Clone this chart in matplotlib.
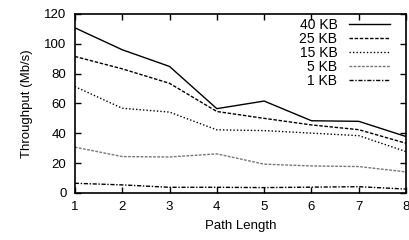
import matplotlib
matplotlib.use("Agg")
import matplotlib.pyplot as plt

plt.rcParams['font.family'] = ['Liberation Sans', 'DejaVu Sans']
plt.rcParams['font.size'] = 9.5

# data
path_length = [1, 2, 3, 4, 5, 6, 7, 8]
kb40 = [110.7, 96.0, 84.8, 56.5, 61.6, 48.4, 48.0, 37.8]
kb25 = [91.5, 83.2, 73.5, 54.6, 50.0, 45.6, 42.4, 33.3]
kb15 = [71.3, 56.8, 54.2, 42.3, 41.8, 40.1, 38.4, 27.7]
kb5 = [30.7, 24.4, 24.1, 26.2, 19.3, 18.1, 17.7, 14.1]
kb1 = [6.5, 5.4, 3.8, 3.8, 3.6, 3.9, 4.2, 2.6]

fig = plt.figure(figsize=(4.09, 2.40), dpi=100)
ax = fig.add_axes([0.183, 0.196, 0.810, 0.746])

ax.plot(path_length, kb40, color="black", lw=1.0, ls="-", label="40 KB")
ax.plot(path_length, kb25, color="black", lw=1.0, ls=(0, (2.5, 1.2)), label="25 KB")
ax.plot(path_length, kb15, color="black", lw=1.0, ls=(0, (1, 1.5)), label="15 KB")
ax.plot(path_length, kb5, color="#777777", lw=1.0, ls=(0, (2, 1)), label="5 KB")
ax.plot(path_length, kb1, color="black", lw=1.0, ls=(0, (3, 1.2, 1, 1.2)), label="1 KB")

ax.set_xlim(1, 8)
ax.set_ylim(0, 120)
ax.set_xticks(path_length)
ax.set_yticks([0, 20, 40, 60, 80, 100, 120])
ax.tick_params(direction="in", top=True, right=True, length=4, width=1, pad=6)
for s in ax.spines.values():
    s.set_linewidth(1.2)

ax.set_xlabel("Path Length", labelpad=5)
ax.set_ylabel("Throughput (Mb/s)", labelpad=8)

ax.legend(loc="upper right", bbox_to_anchor=(0.952, 0.979), frameon=False,
          markerfirst=False, handlelength=3.0, labelspacing=0.0,
          borderaxespad=0, borderpad=0, handletextpad=0.8, fontsize=10)

fig.savefig("out.png", dpi=100)
